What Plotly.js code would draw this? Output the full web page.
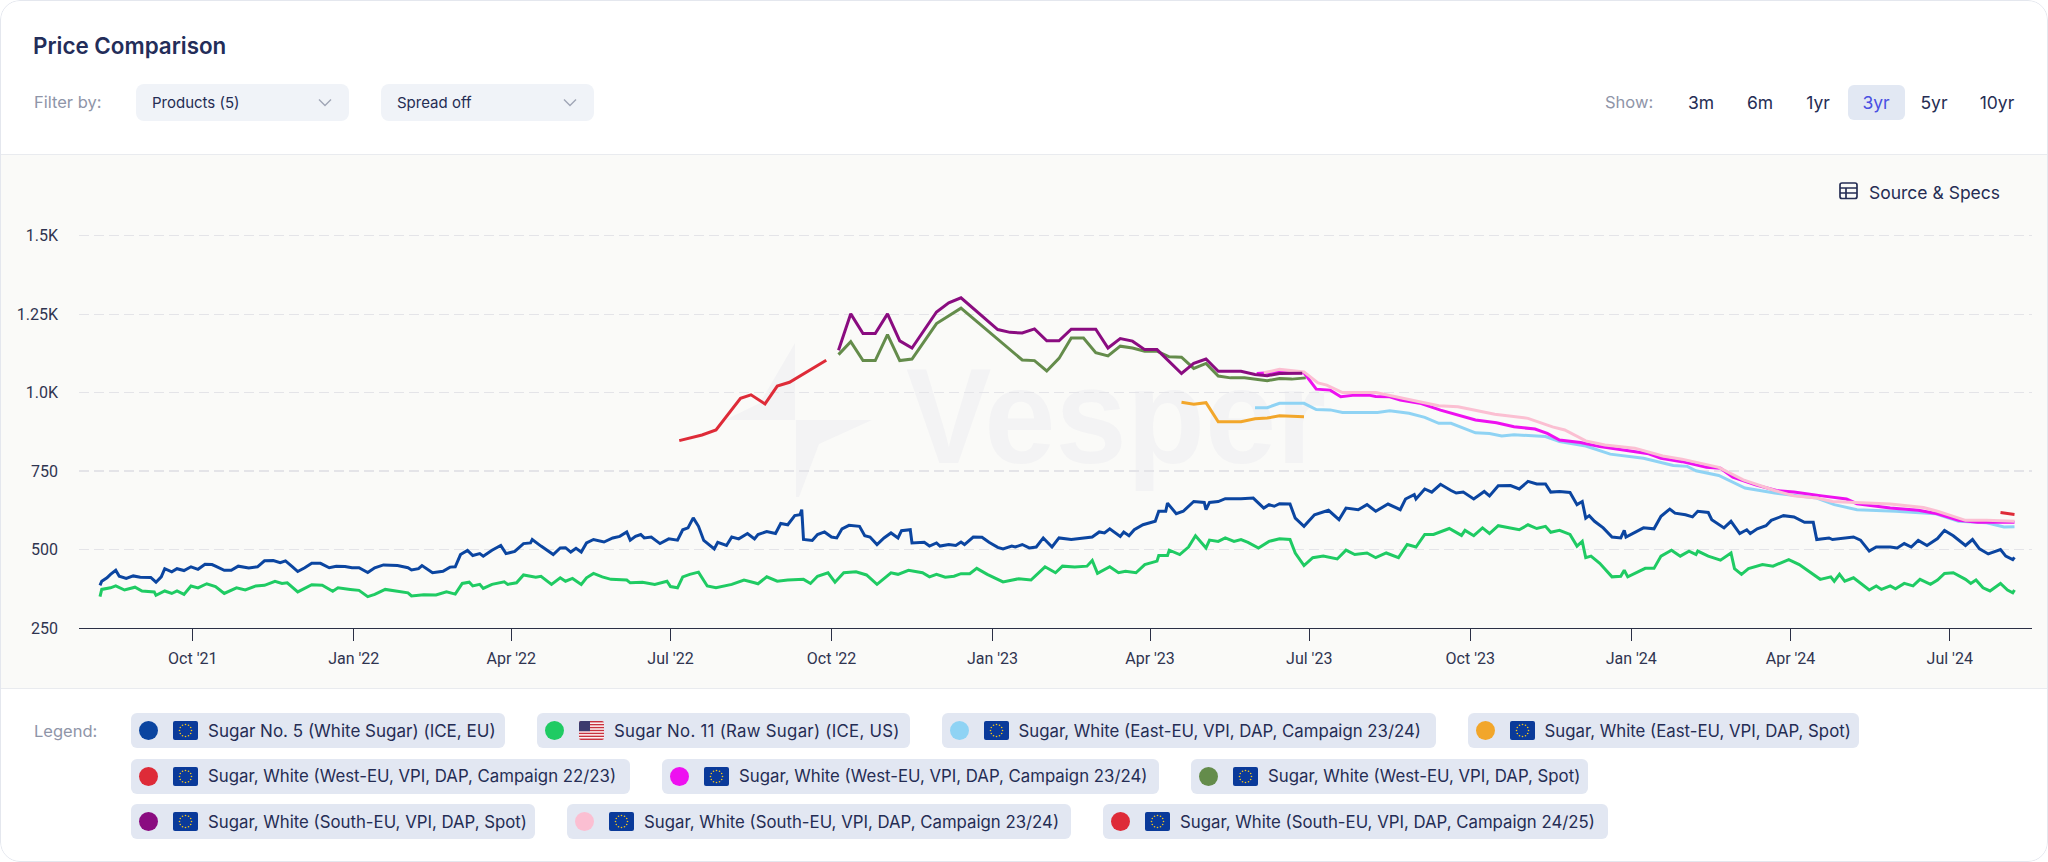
<!DOCTYPE html>
<html><head><meta charset="utf-8">
<script src="https://cdn.plot.ly/plotly-3.0.1.min.js"></script>
<style>
*{box-sizing:border-box}
html,body{margin:0;padding:0;background:#fff;width:2048px;height:862px;overflow:hidden;font-family:Inter,Roboto,sans-serif;color:#252d54}
#card{position:absolute;left:0;top:0;width:2048px;height:862px;border-radius:20px;overflow:hidden;background:#fff}
#edge{position:absolute;left:0;top:0;width:2048px;height:862px;border:1px solid #e4e7ee;border-radius:20px;pointer-events:none}
#band{position:absolute;left:0;top:154px;width:2048px;height:535px;background:#fafaf8;border-top:1px solid #e9ebef;border-bottom:1px solid #e9ebef}
#mark{position:absolute;left:0;top:0}
#plot{position:absolute;left:0;top:0;width:2048px;height:862px}
.a{position:absolute;white-space:nowrap}
#title{left:33px;top:32px;font-size:22.4px;font-weight:600;line-height:28px;color:#232d59}
.muted{color:#8f95a8;font-size:16.5px;line-height:24px}
.sel{top:84px;height:37px;width:213px;background:#f0f3f8;border-radius:8px;font-size:15px;line-height:37px;padding-left:16px;color:#252d54}
.sel svg{position:absolute;right:17px;top:14px}
.rng{top:85px;height:35px;line-height:35px;font-size:17.5px;text-align:center;transform:translateX(-50%);color:#252d54}
#on{left:1848px;top:85px;width:57px;height:35px;background:#e2e8f3;border-radius:6px}
#src{left:1869px;top:180px;font-size:17.5px;line-height:26px;color:#252d54}
#legendBox{position:absolute;left:131px;top:713px;width:1760px;display:flex;flex-wrap:wrap;column-gap:32px;row-gap:10.5px}
.chip{height:35px;background:#e2e7f2;border-radius:6px;display:flex;align-items:center;padding:0 0 0 8px;font-size:16.8px;color:#252d54;white-space:nowrap}
.chip:nth-child(1){width:374px;font-size:17px}
.chip:nth-child(2){width:372.5px;letter-spacing:.28px}
.chip:nth-child(3){width:494px}
.chip:nth-child(4){width:391px}
.chip:nth-child(5){width:499px}
.chip:nth-child(6){width:497px}
.chip:nth-child(7){width:397px}
.chip:nth-child(8){width:404px}
.chip:nth-child(9){width:504px}
.chip:nth-child(10){width:504.5px}
.dot{width:19px;height:19px;border-radius:50%;margin-right:15px;flex:none}
.chip svg{margin-right:10px;flex:none;border-radius:2px}
</style></head><body>
<div id="card">
<div id="band"></div>
<svg id="mark" width="2048" height="862">
<polygon points="795,343 760,403 725,420 795,420" fill="#f3f3f4"/>
<polygon points="796,420 872,420 819,444 799,497 796,497" fill="#f3f3f4"/>
<text x="906" y="463" font-family="Liberation Sans" font-weight="700" font-size="136" fill="#f3f3f4" textLength="420" lengthAdjust="spacingAndGlyphs">Vesper</text>
</svg>
<div id="plot"></div>
<div class="a" id="title">Price Comparison</div>
<div class="a muted" style="left:34px;top:90px">Filter by:</div>
<div class="a sel" style="left:136px">Products (5)<svg width="14" height="9" viewBox="0 0 14 9"><path d="M1 1.5l6 6 6-6" fill="none" stroke="#a0a6b6" stroke-width="1.4"/></svg></div>
<div class="a sel" style="left:381px">Spread off<svg width="14" height="9" viewBox="0 0 14 9"><path d="M1 1.5l6 6 6-6" fill="none" stroke="#a0a6b6" stroke-width="1.4"/></svg></div>
<div class="a muted" style="left:1605px;top:90px">Show:</div>
<div class="a" id="on"></div>
<div class="a rng" style="left:1701px">3m</div>
<div class="a rng" style="left:1760px">6m</div>
<div class="a rng" style="left:1818px">1yr</div>
<div class="a rng" style="left:1876px;color:#4a50e2">3yr</div>
<div class="a rng" style="left:1934px">5yr</div>
<div class="a rng" style="left:1997px">10yr</div>
<svg class="a" style="left:1839px;top:182px" width="19" height="18" viewBox="0 0 19 18"><rect x="1" y="1" width="17" height="15.5" rx="2" fill="none" stroke="#252d54" stroke-width="1.7"/><path d="M1 6h17M1 11h17M7 6v10.5" stroke="#252d54" stroke-width="1.7" fill="none"/></svg>
<div class="a" id="src">Source &amp; Specs</div>
<div class="a muted" style="left:34px;top:719px">Legend:</div>
<div id="legendBox"></div>
<div id="edge"></div>
</div>
<script>
var tickDates=['2021-10-01','2022-01-01','2022-04-01','2022-07-01','2022-10-01','2023-01-01','2023-04-01','2023-07-01','2023-10-01','2024-01-01','2024-04-01','2024-07-01'];
var tickLabels=["Oct '21","Jan '22","Apr '22","Jul '22","Oct '22","Jan '23","Apr '23","Jul '23","Oct '23","Jan '24","Apr '24","Jul '24"];
var yTicks=[250,500,750,1000,1250,1500];
var yLabels=['250','500','750','1.0K','1.25K','1.5K'];

// day offsets are days after 1 Oct 2021
var no5Days=[-53,-52,-49,-47,-44,-42,-38,-34,-30,-26,-24,-21,-18,-16,-12,-9,-5,-1,3,7,11,13,18,22,26,32,37,41,46,50,53,57,60,64,68,73,78,82,87,91,95,100,104,109,117,123,125,129,131,137,143,147,150,153,157,160,164,166,171,176,179,184,189,193,194,199,206,210,213,216,219,222,225,229,235,240,244,248,250,253,256,258,262,267,272,277,280,283,286,289,292,298,300,305,308,312,317,321,323,328,333,336,340,344,347,348,349,354,357,361,365,368,371,375,381,384,387,391,395,399,403,405,410,411,418,421,425,427,432,436,439,441,446,451,455,460,463,468,470,474,478,482,486,491,495,502,510,514,518,521,524,530,532,535,538,543,550,552,556,557,562,566,572,578,579,581,586,590,599,606,612,615,618,621,627,630,635,641,649,655,659,666,671,676,683,690,693,698,699,704,708,713,719,722,726,732,738,741,746,753,758,763,768,773,776,781,787,791,794,796,798,801,806,811,816,818,819,829,835,839,844,847,853,857,860,866,868,875,879,884,888,890,894,899,902,909,915,921,926,928,935,937,949,953,958,962,970,974,978,982,986,991,997,1001,1006,1013,1017,1021,1026,1033,1036,1040,1041];
var no5Values=[386,399,410,421,434,415,408,416,412,412,411,396,413,439,429,439,433,445,437,453,452,447,434,434,447,441,445,464,465,458,464,445,430,442,456,456,442,447,446,442,442,427,442,451,449,442,435,439,449,426,431,444,445,484,497,481,487,479,498,513,487,494,519,521,532,511,484,505,506,492,504,492,521,532,524,537,542,556,530,542,548,537,540,519,534,530,563,569,601,574,529,502,523,513,540,534,551,534,548,557,551,583,579,608,611,627,532,529,548,556,540,537,566,577,574,544,540,516,537,553,537,560,563,521,523,511,521,511,516,513,524,516,540,539,523,507,502,511,508,516,505,508,537,508,537,532,537,540,556,553,566,542,556,544,563,579,590,622,622,648,614,622,653,650,627,650,653,662,662,664,632,643,638,646,645,600,574,611,625,595,632,627,643,622,645,627,661,675,661,693,683,708,688,680,683,661,685,671,703,704,693,717,709,709,683,685,682,643,653,600,608,590,569,540,537,561,540,569,566,606,629,616,611,604,622,618,595,569,590,551,563,551,566,576,593,608,604,587,587,532,537,532,540,530,495,508,508,505,519,508,529,513,535,561,544,513,532,502,486,500,479,468,475];

var no11Days=[-53,-52,-47,-44,-39,-33,-29,-22,-21,-16,-12,-9,-5,-1,3,8,13,18,25,30,36,41,47,51,54,60,68,74,80,83,90,95,100,104,110,117,123,125,132,139,145,150,154,158,160,164,166,171,178,180,185,189,196,199,205,210,213,217,222,225,229,234,239,248,250,257,264,271,273,277,280,284,289,294,299,308,315,321,323,328,334,340,349,353,357,363,367,372,379,385,391,399,403,409,417,421,425,430,435,439,444,448,454,463,472,479,484,487,493,497,504,511,514,517,524,529,533,539,544,551,552,557,558,564,569,573,579,581,586,590,595,599,603,609,615,621,627,630,635,640,646,654,659,664,671,676,682,689,694,699,704,709,718,725,727,732,737,741,746,752,758,763,768,773,776,781,787,791,794,796,799,804,811,816,818,820,830,835,839,845,850,855,859,860,866,873,879,881,885,889,897,903,912,918,927,930,936,938,941,944,949,958,962,965,970,973,978,983,987,993,997,1001,1006,1013,1016,1019,1023,1027,1033,1037,1040,1041];
var no11Values=[350,373,378,384,371,380,368,365,354,368,360,368,357,384,378,391,382,360,378,371,384,386,399,392,394,365,388,386,367,378,373,370,350,357,373,368,362,352,356,355,365,358,392,396,384,389,376,389,397,389,394,419,412,415,389,410,399,408,389,410,424,413,405,403,394,396,389,399,382,378,413,421,428,384,378,389,403,394,391,413,399,403,405,392,415,426,396,426,429,419,389,426,421,434,426,413,421,412,415,423,423,440,421,397,407,403,431,445,426,447,444,447,465,424,445,426,431,426,452,463,481,481,498,484,508,544,505,530,526,537,526,532,523,505,526,534,532,489,449,474,479,470,498,484,489,474,489,474,516,508,548,548,567,545,561,544,569,551,576,570,563,579,567,574,555,561,548,511,526,474,479,456,413,415,434,413,440,440,479,498,479,495,484,495,479,466,489,439,421,439,452,447,468,452,415,405,413,399,421,399,410,371,384,373,384,375,392,384,405,389,403,424,426,405,392,403,378,368,392,371,362,371];

var eastCamp2324Days=[607,614,621,635,642,650,657,677,684,695,704,712,719,733,741,748,755,773,781,796,810,829,846,854,859,872,887,904,928,938,951,973,996,1009,1025,1035,1041];
var eastCamp2324Values=[952,952,966,966,946,945,937,937,942,934,921,902,902,872,870,862,866,860,844,830,804,791,768,765,751,736,696,680,664,643,627,622,614,590,585,572,573];

var eastSpotDays=[565,572,579,586,599,607,614,621,635];
var eastSpotValues=[969,963,968,907,907,917,919,926,923];

var westCamp2223Days=[278,291,299,313,319,327,334,341,362];
var westCamp2223Values=[847,865,881,982,993,964,1021,1033,1103];

var westCamp2324Days=[608,621,635,642,650,656,664,672,676,684,690,702,713,724,733,745,755,767,774,781,793,804,821,832,839,851,865,873,880,893,905,915,931,945,951,970,986,997,1009,1020,1041];
var westCamp2324Values=[1061,1066,1063,1011,1008,987,992,992,988,987,976,965,944,928,913,904,891,884,870,849,841,828,815,805,791,780,762,759,731,706,688,683,671,661,646,632,625,614,593,587,587];

var westSpotDays=[369,376,383,390,397,404,411,425,439,474,481,488,495,502,509,516,523,530,537,544,551,558,565,572,579,586,593,601,614,621,628,636];
var westSpotValues=[1121,1162,1102,1102,1185,1102,1107,1220,1269,1104,1102,1069,1109,1174,1174,1127,1117,1148,1142,1132,1132,1114,1113,1077,1093,1053,1047,1047,1038,1045,1043,1047];

var southSpotDays=[369,376,383,390,397,404,411,425,432,439,460,467,474,481,488,495,502,516,523,530,537,544,551,565,572,579,586,599,607,614,621,634];
var southSpotValues=[1135,1251,1188,1188,1251,1165,1142,1257,1286,1302,1201,1192,1190,1203,1165,1165,1202,1202,1142,1172,1164,1137,1137,1061,1093,1107,1068,1068,1058,1054,1061,1062];

var southCamp2324Days=[612,621,635,643,648,657,676,684,701,712,723,744,763,777,784,796,807,824,840,851,872,886,904,915,928,937,970,989,997,1013,1025,1041];
var southCamp2324Values=[1063,1074,1066,1031,1024,1000,1000,990,971,958,955,931,918,891,881,846,833,823,798,788,762,722,688,671,664,653,645,634,622,593,593,590];

var southCamp2425Days=[1033,1041];
var southCamp2425Values=[618,612];

function toDate(d){return new Date(Date.UTC(2021,9,1)+d*864e5).toISOString().slice(0,10);}
function line(days,vals,color,w){return {type:'scatter',mode:'lines',x:days.map(toDate),y:vals,line:{color:color,width:w||3,shape:'linear'},hoverinfo:'skip',showlegend:false};}

var traces=[
 line(no5Days,no5Values,'#0b45a0'),
 line(no11Days,no11Values,'#1fcb63'),
 line(eastCamp2324Days,eastCamp2324Values,'#8fd3f4'),
 line(eastSpotDays,eastSpotValues,'#f2a62a'),
 line(westCamp2223Days,westCamp2223Values,'#de2b38'),
 line(westCamp2324Days,westCamp2324Values,'#ee10f0'),
 line(southCamp2324Days,southCamp2324Values,'#fbbfd2'),
 line(westSpotDays,westSpotValues,'#648c4b'),
 line(southSpotDays,southSpotValues,'#8a0c80'),
 line(southCamp2425Days,southCamp2425Values,'#de2b38')
];
var tickFont={family:'Roboto, sans-serif',size:16,color:'#2f3450'};
var layout={
 width:2048,height:862,paper_bgcolor:'rgba(0,0,0,0)',plot_bgcolor:'rgba(0,0,0,0)',
 margin:{l:79,r:16,t:160.6,b:233.5,pad:0},showlegend:false,
 xaxis:{type:'date',range:['2021-07-28','2024-08-17'],tickmode:'array',tickvals:tickDates,ticktext:tickLabels,tickfont:tickFont,
  ticks:'outside',ticklen:12,tickwidth:1,tickcolor:'#2a2f45',showline:true,linecolor:'#2a2f45',linewidth:1.2,showgrid:false,zeroline:false,fixedrange:true,ticklabelstandoff:4},
 yaxis:{range:[250,1738],tickmode:'array',tickvals:yTicks,ticktext:yLabels,tickfont:tickFont,ticks:'',showline:false,
  showgrid:true,gridcolor:'#e4e4e8',griddash:'10px,5px',gridwidth:1.3,zeroline:false,fixedrange:true,ticklabelstandoff:20}
};
Plotly.newPlot('plot',traces,layout,{displayModeBar:false,staticPlot:true});

var legendNames=['Sugar No. 5 (White Sugar) (ICE, EU)','Sugar No. 11 (Raw Sugar) (ICE, US)','Sugar, White (East-EU, VPI, DAP, Campaign 23/24)','Sugar, White (East-EU, VPI, DAP, Spot)','Sugar, White (West-EU, VPI, DAP, Campaign 22/23)','Sugar, White (West-EU, VPI, DAP, Campaign 23/24)','Sugar, White (West-EU, VPI, DAP, Spot)','Sugar, White (South-EU, VPI, DAP, Spot)','Sugar, White (South-EU, VPI, DAP, Campaign 23/24)','Sugar, White (South-EU, VPI, DAP, Campaign 24/25)'];
var legendColors=['#0b45a0','#1fcb63','#8fd3f4','#f2a62a','#de2b38','#ee10f0','#648c4b','#8a0c80','#fbbfd2','#de2b38'];
var legendFlags=['eu','us','eu','eu','eu','eu','eu','eu','eu','eu'];
function euFlag(){var s='<svg width="25" height="19" viewBox="0 0 25 19"><rect width="25" height="19" fill="#0a3a9a"/>';
 for(var i=0;i<12;i++){var a=i*Math.PI/6;s+='<circle cx="'+(12.5+6*Math.cos(a)).toFixed(1)+'" cy="'+(9.5+6*Math.sin(a)).toFixed(1)+'" r="0.8" fill="#f5c518"/>';}
 return s+'</svg>';}
function usFlag(){var s='<svg width="25" height="19" viewBox="0 0 25 19"><rect width="25" height="19" fill="#fff"/>';
 for(var i=0;i<7;i++){s+='<rect y="'+(i*2.92).toFixed(2)+'" width="25" height="1.46" fill="#c8313e"/>';}
 return s+'<rect width="11" height="10.2" fill="#3c3b6e"/></svg>';}
var box=document.getElementById('legendBox');
legendNames.forEach(function(n,i){var c=document.createElement('div');c.className='chip';
 c.innerHTML='<span class="dot" style="background:'+legendColors[i]+'"></span>'+(legendFlags[i]==='us'?usFlag():euFlag())+'<span>'+n+'</span>';box.appendChild(c);});
</script>
</body></html>
